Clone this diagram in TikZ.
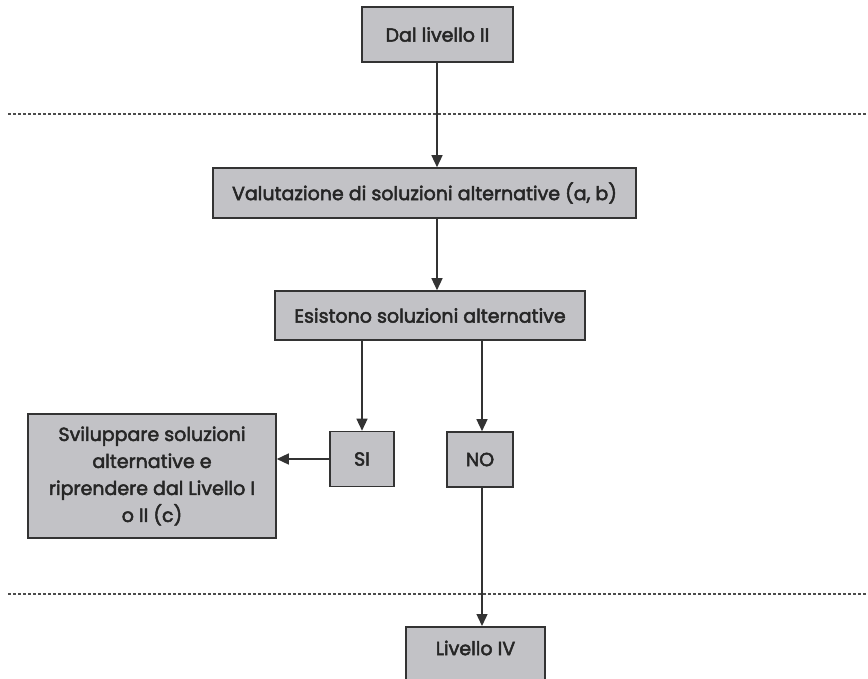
\documentclass[tikz,border=0pt]{standalone}
\usepackage{fontspec}
\setmainfont{Poppins}[FakeBold=2.6]
\usetikzlibrary{arrows.meta}
\definecolor{boxfill}{HTML}{C2C2C6}
\definecolor{boxline}{HTML}{333333}
\begin{document}
\begin{tikzpicture}[x=1pt,y=-1pt,
  txt/.style={font=\fontsize{19}{27}\selectfont\color{black!85}},
  box/.style={draw=boxline,line width=1.6pt,fill=boxfill,inner sep=0pt,align=center,txt},
  conn/.style={draw=boxline,line width=1.4pt,-{Triangle[width=11pt,length=12pt]}},
  sep/.style={draw=black!70,line width=1.6pt,dash pattern=on 3pt off 2pt}]
\useasboundingbox (0,0) rectangle (868,678);
\clip (0,0) rectangle (868,678);
\node[box,minimum width=151pt,minimum height=55pt] (n1) at (437.5,34.5) {Dal livello II};
\node[box,minimum width=423pt,minimum height=50pt] (n2) at (424.5,193) {Valutazione di soluzioni alternative (a, b)};
\node[box,minimum width=310pt,minimum height=49pt] (n3) at (430,315.5) {Esistono soluzioni alternative};
\node[box,minimum width=64pt,minimum height=55pt] (si) at (362,459) {SI};
\node[box,minimum width=66pt,minimum height=55pt] (no) at (480,459.5) {NO};
\node[box,minimum width=248pt,minimum height=124pt] (sv) at (152,476) {Sviluppare soluzioni\\alternative e\\riprendere dal Livello I\\o II (c)};
\node[box,minimum width=139pt,minimum height=70pt,anchor=north] (l4) at (475.5,626) {};
\node[txt] (l4t) at (475.5,648) {Livello IV};
\coordinate (d1a) at (8,114);
\coordinate (d1b) at (868,114);
\coordinate (d2a) at (8,594);
\coordinate (d2b) at (868,594);
\draw[sep] (d1a) -- (d1b);
\draw[sep] (d2a) -- (d2b);
\draw[conn] (n1.south -| 437,0) -- (n2.north -| 437,0);
\draw[conn] (n2.south -| 437,0) -- (n3.north -| 437,0);
\draw[conn] (n3.south -| si) -- (si.north);
\draw[conn] (n3.south -| 482,0) -- (no.north -| 482,0);
\draw[conn] (si.west) -- (sv.east |- si.west);
\draw[conn] (no.south -| 482,0) -- (l4.north -| 482,0);
\end{tikzpicture}
\end{document}
